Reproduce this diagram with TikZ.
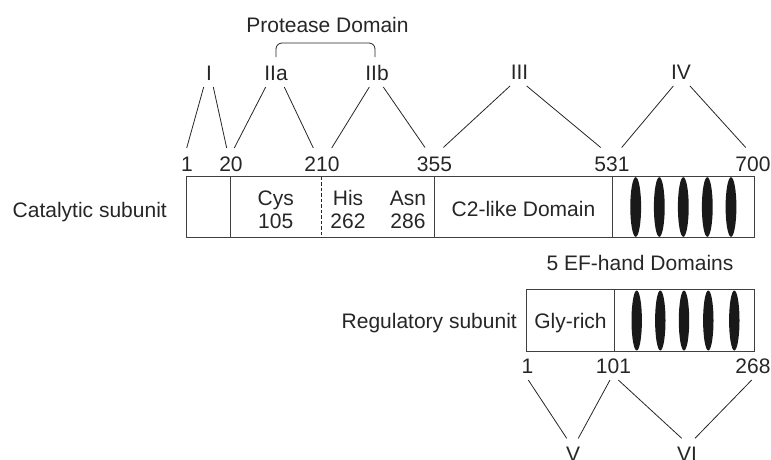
\documentclass[tikz,border=0pt]{standalone}
\usepackage{fontspec}
\setmainfont{Liberation Sans}
\begin{document}
\begin{tikzpicture}[x=1pt,y=-1pt,
  lbl/.style={anchor=base,inner sep=0pt,text=black!85,font=\fontsize{21}{25}\selectfont},
  boxline/.style={draw=black!75,line width=1pt},
  conn/.style={draw=black!85,line width=0.8pt},
  efh/.style={fill=black!90,draw=none}]
\useasboundingbox (0,0) rectangle (771,459);
% ---------- title and brace
\node[lbl] (prot) at (327.5,32) {Protease Domain};
\draw[conn,rounded corners=6pt] (276,57) -- (276,43) -- (375,43) -- (375,57);
% ---------- roman numerals
\node[lbl] (rI)   at (209,80) {I};
\node[lbl] (rIIa) at (276,80) {IIa};
\node[lbl] (rIIb) at (377,80) {IIb};
\node[lbl] (rIII) at (519.5,79) {III};
\node[lbl] (rIV)  at (681,79) {IV};
% ---------- residue numbers (catalytic)
\node[lbl] (n1)   at (187,171) {1};
\node[lbl] (n20)  at (231,171) {20};
\node[lbl] (n210) at (322,171) {210};
\node[lbl] (n355) at (434.5,171) {355};
\node[lbl] (n531) at (612,171) {531};
\node[lbl] (n700) at (753,171) {700};
% ---------- line end coordinates
\coordinate (a1) at (203.7,87);  \coordinate (b1) at (186.7,148);
\coordinate (a2) at (213.3,87);  \coordinate (b2) at (226.7,148);
\coordinate (a3) at (265.7,87);  \coordinate (b3) at (234.3,148);
\coordinate (a4) at (284.3,87);  \coordinate (b4) at (313.3,148);
\coordinate (a5) at (369.3,87);  \coordinate (b5) at (331.7,148);
\coordinate (a6) at (383.3,87);  \coordinate (b6) at (425,147.5);
\coordinate (a7) at (510,86);    \coordinate (b7) at (443.3,147.5);
\coordinate (a8) at (526.7,86);  \coordinate (b8) at (600.7,147.5);
\coordinate (a9) at (673.3,86);  \coordinate (b9) at (621.7,147.5);
\coordinate (a10) at (690,86);   \coordinate (b10) at (745.7,147.5);
\foreach \i in {1,...,10} {\draw[conn] (a\i) -- (b\i);}
% ---------- catalytic subunit box
\node[lbl,anchor=base east] (cat) at (167,217.3) {Catalytic subunit};
\draw[boxline] (186.7,176.7) rectangle (754,237.3);
\draw[boxline] (230.3,176.7) -- (230.3,237.3);
\draw[black!85,line width=1.4pt,dash pattern=on 3.5pt off 2pt] (321.7,176.7) -- (321.7,237.3);
\draw[boxline] (434.3,176.7) -- (434.3,237.3);
\draw[boxline] (612.7,176.7) -- (612.7,237.3);
\node[lbl] (cys) at (275.7,205) {Cys};
\node[lbl] (c105) at (275.7,228.3) {105};
\node[lbl] (his) at (348,205) {His};
\node[lbl] (c262) at (348,228.3) {262};
\node[lbl] (asn) at (408,205) {Asn};
\node[lbl] (c286) at (408,228.3) {286};
\node[lbl] (c2) at (523.5,216.7) {C2-like Domain};
\foreach \x in {635.7,659.3,683.3,707.3,731} {\fill[efh] (\x,207) ellipse [x radius=5.4, y radius=29.8];}
% ---------- EF-hand label
\node[lbl] (ef) at (640,270) {5 EF-hand Domains};
% ---------- regulatory subunit
\node[lbl,anchor=base east] (reg) at (517,328.3) {Regulatory subunit};
\draw[boxline] (526.7,289.3) rectangle (754.3,351.7);
\draw[boxline] (614.3,289.3) -- (614.3,351.7);
\node[lbl] (gly) at (570.5,328.3) {Gly-rich};
\foreach \x in {636.7,660.3,684,708.3,734.3} {\fill[efh] (\x,320.5) ellipse [x radius=5.2, y radius=30];}
\node[lbl] (r1)   at (527.5,373.3) {1};
\node[lbl] (r101) at (613.5,373.3) {101};
\node[lbl] (r268) at (753,373.3) {268};
% ---------- V and VI
\node[lbl] (rV)  at (573,461.5) {V};
\node[lbl] (rVI) at (687,461.5) {VI};
\coordinate (c1) at (528.3,380); \coordinate (d1) at (566.7,438.3);
\coordinate (c2) at (610,380);   \coordinate (d2) at (578.3,438.3);
\coordinate (c3) at (618.3,380); \coordinate (d3) at (681.7,438.3);
\coordinate (c4) at (751.7,380); \coordinate (d4) at (695,438.3);
\foreach \i in {1,...,4} {\draw[conn] (c\i) -- (d\i);}
\end{tikzpicture}
\end{document}
